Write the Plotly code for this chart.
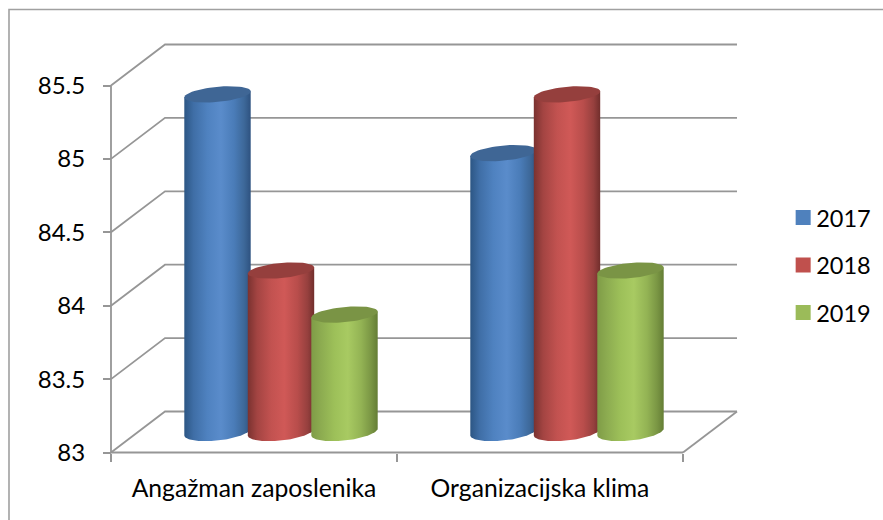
import numpy as np
import plotly.graph_objects as go

# ---- data ----
categories = ["Angažman zaposlenika", "Organizacijska klima"]
series_names = ["2017", "2018", "2019"]
values_2017 = [85.3, 84.9]
values_2018 = [84.1, 85.3]
values_2019 = [83.8, 84.1]
y_ticks = [83, 83.5, 84, 84.5, 85, 85.5]
y_tick_labels = ["83", "83.5", "84", "84.5", "85", "85.5"]

# ---- style / layout constants ----
W, H = 883, 520
PX_X = 286.0      # pixels per category
PX_Y = 146.8      # pixels per value unit
X0_PX, Y0_PX = 111.0, 452.5
DX = 54 / PX_X    # depth offset in axis units
DY = 41 / PX_Y
STEP = 63.5 / PX_X
A = 33.2 / PX_X
GRID = "#969696"
LEGEND_COLORS = ["#4f81bd", "#c0504d", "#9bbb59"]
BODY = [
    [[0, "#2c5684"], [0.14, "#3f6ea6"], [0.35, "#4f82c0"], [0.55, "#5a8ccb"], [0.75, "#4a7cb8"], [0.9, "#3d6899"], [1, "#2e5280"]],
    [[0, "#7a3230"], [0.14, "#a34442"], [0.35, "#c25250"], [0.55, "#d05957"], [0.75, "#b84d4b"], [0.9, "#96403e"], [1, "#712e2c"]],
    [[0, "#7f9c47"], [0.14, "#8cab50"], [0.35, "#9dc059"], [0.55, "#a8ca62"], [0.75, "#93b354"], [0.9, "#7a9644"], [1, "#647d35"]],
]
CAP = ["#3f6695", "#953f3d", "#7a9445"]
FONT = "Lato, Carlito, sans-serif"
FS = 24


def ellipse(cx, level, half, b_px, s_px):
    t = np.linspace(*half, 60)
    return cx + A * np.cos(t), level + (s_px * np.cos(t) - b_px * np.sin(t)) / PX_Y


fig = go.Figure()

# back wall gridlines with their oblique side-wall segments
gx, gy = [], []
for v in y_ticks:
    gx += [0, DX, 2 + DX, None]
    gy += [v, v + DY, v + DY, None]
gx += [2, 2 + DX]
gy += [y_ticks[0], y_ticks[0] + DY]
fig.add_trace(go.Scatter(x=gx, y=gy, mode="lines", line=dict(color=GRID, width=1.8),
                         showlegend=False, hoverinfo="skip"))

# axis lines only across the plotted span
fig.add_trace(go.Scatter(x=[0, 0, 2], y=[y_ticks[-1], y_ticks[0], y_ticks[0]],
                         mode="lines", line=dict(color=GRID, width=1.8),
                         showlegend=False, hoverinfo="skip"))

# cylinders
base = y_ticks[0] + DY / 2
for s, vals in enumerate([values_2017, values_2018, values_2019]):
    for c, v in enumerate(vals):
        cx = c + 0.5 + DX / 2 + (s - 1) * STEP
        top = v + DY / 2
        # body: bottom half-ellipse at the floor, straight up to the top level
        bx, by = ellipse(cx, base, (np.pi, 0), 8.5, 3.5)
        px = np.r_[bx, cx + A, cx - A, bx[0]]
        py = np.r_[by, top + 3 / PX_Y, top - 3 / PX_Y, by[0]]
        fig.add_trace(go.Scatter(
            x=px, y=py, mode="lines", line=dict(width=0), fill="toself",
            fillgradient=dict(type="horizontal", colorscale=BODY[s]),
            showlegend=False, name=f"{series_names[s]} – {categories[c]}",
            hoverinfo="skip"))
        # top cap
        tx, ty = ellipse(cx, top, (0, 2 * np.pi), 7.6, 3)
        fig.add_trace(go.Scatter(
            x=tx, y=ty, mode="lines", line=dict(width=0), fill="toself",
            fillcolor=CAP[s], showlegend=False, hoverinfo="skip"))

# legend
for s, name in enumerate(series_names):
    fig.add_trace(go.Scatter(
        x=[None], y=[None], mode="markers", name=name, legendgroup=name,
        marker=dict(symbol="square", size=15, color=LEGEND_COLORS[s])))

fig.update_layout(
    width=W, height=H,
    margin=dict(l=0, r=0, t=0, b=0),
    paper_bgcolor="white", plot_bgcolor="white",
    font=dict(family=FONT, size=FS, color="#000000"),
    legend=dict(x=0.879, xanchor="left", y=0.49, yanchor="middle",
                tracegroupgap=14, bgcolor="rgba(0,0,0,0)",
                font=dict(family=FONT, size=23.5), itemsizing="trace"),
    xaxis=dict(
        range=[-X0_PX / PX_X, (W - X0_PX) / PX_X],
        domain=[0, 1], anchor="free", position=(H - Y0_PX) / H,
        tickmode="array", tickvals=[0.5, 1.5], ticktext=categories,
        tickfont=dict(family=FONT, size=24.7),
        ticks="outside", ticklen=0, tickwidth=0, ticklabelstandoff=14,
        showline=False, showgrid=False, zeroline=False,
        minor=dict(tickmode="array", tickvals=[0, 1, 2], ticks="outside",
                   ticklen=8, tickwidth=1.8, tickcolor=GRID, showgrid=False),
    ),
    yaxis=dict(
        range=[y_ticks[0] - (H - Y0_PX) / PX_Y, y_ticks[0] + Y0_PX / PX_Y],
        domain=[0, 1], anchor="free", position=X0_PX / W,
        tickmode="array", tickvals=y_ticks, ticktext=y_tick_labels,
        ticks="outside", ticklen=8, tickwidth=1.8, tickcolor=GRID,
        ticklabelstandoff=13, showgrid=False, zeroline=False, showline=False,
    ),
    shapes=[
        # chart frame
        dict(type="path", xref="paper", yref="paper",
             path=f"M {9/W} 0 L {9/W} {1-9.5/H} L 1 {1-9.5/H}",
             line=dict(color="#a0a0a0", width=1.6)),
    ],
)

fig.write_html(
    "out.html",
    config={"displayModeBar": False},
    post_script=(
        "document.documentElement.style.overflow='hidden';"
        "document.body.style.margin='0';"
        "document.querySelectorAll('.legendsymbols').forEach(function(g){"
        "g.setAttribute('transform','translate(7,0)');});"
    ),
)
